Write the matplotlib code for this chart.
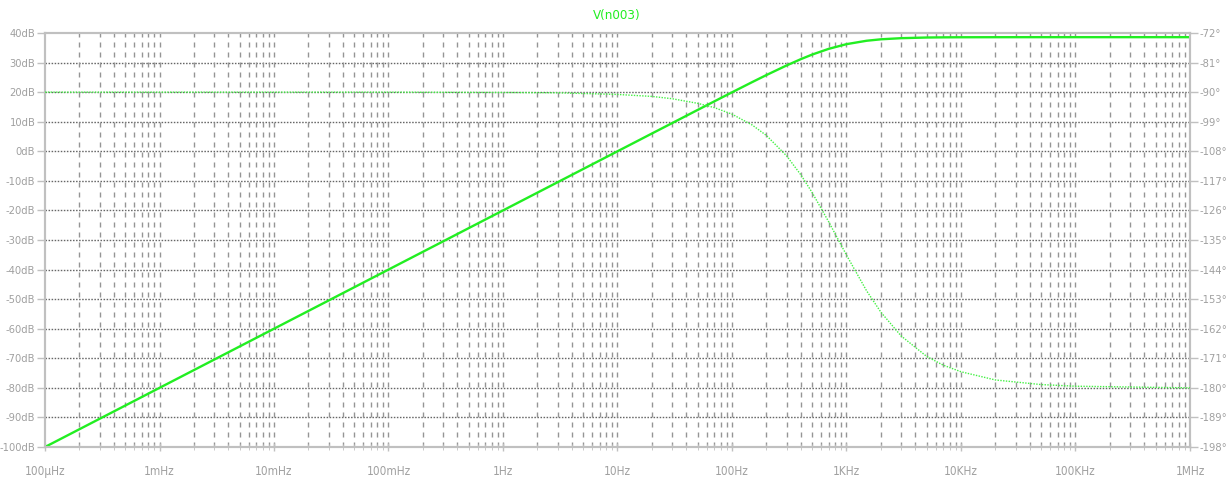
import matplotlib
matplotlib.use("Agg")
import matplotlib.pyplot as plt
from matplotlib import font_manager
from matplotlib.ticker import FixedLocator, NullFormatter

# values
freq_hz = [1e-4, 1e-3, 1e-2, 0.1, 1, 3, 10, 20, 30, 50, 70, 100, 150, 200, 300,
           400, 500, 700, 1000, 1500, 2000, 3000, 5000, 7000, 1e4, 2e4, 5e4, 1e5, 1e6]
mag_db = [-100, -80, -60, -40, -20, -10.46, 0.0, 6.02, 9.53, 13.96, 16.87, 19.94,
          23.39, 25.79, 29.03, 31.17, 32.69, 34.65, 36.23, 37.38, 37.87, 38.25,
          38.47, 38.53, 38.56, 38.58, 38.59, 38.59, 38.59]
phase_deg = [-90, -90, -90, -90, -90.1, -90.2, -90.7, -91.3, -92.0, -93.4, -94.7,
             -96.7, -100.0, -103.2, -109.4, -115.2, -120.5, -129.5, -139.6, -150.5,
             -157.0, -164.2, -170.4, -173.1, -175.1, -177.6, -179.0, -179.5, -180.0]

x_ticks = [1e-4, 1e-3, 1e-2, 0.1, 1, 10, 100, 1e3, 1e4, 1e5, 1e6]
x_labels = ["100µHz", "1mHz", "10mHz", "100mHz", "1Hz", "10Hz", "100Hz",
            "1KHz", "10KHz", "100KHz", "1MHz"]
db_ticks = list(range(40, -101, -10))
deg_ticks = list(range(-72, -199, -9))

green = "#22ee22"
lbl = "#a0a0a0"
frame = "#c0c0c0"

# pick a narrow face if one is installed
names = {f.name for f in font_manager.fontManager.ttflist}
stretches = {(f.name, f.stretch) for f in font_manager.fontManager.ttflist}
if "Liberation Sans Narrow" in names:
    font = dict(family=["Liberation Sans Narrow", "DejaVu Sans"], stretch="normal")
    ysize, xsize = 9.5, 10
elif any(n == "DejaVu Sans" and s == "condensed" for n, s in stretches):
    font = dict(family=["DejaVu Sans"], stretch="condensed")
    ysize, xsize = 8, 8.5
else:
    font = dict(family=["DejaVu Sans"], stretch="normal")
    ysize, xsize = 7.3, 7.8

fig = plt.figure(figsize=(12.29, 4.86), dpi=100)
ax = fig.add_axes([45 / 1229, 1 - 447 / 486, (1190 - 45) / 1229, (447 - 33) / 486])
ax.set_xscale("log")
ax.set_xlim(1e-4, 1e6)
ax.set_ylim(-100, 40)

# grid: dotted horizontal, dashed vertical at every decade subdivision
minor = [m * d for d in x_ticks[:-1] for m in range(2, 10)]
for y in db_ticks[1:-1]:
    ax.axhline(y, color="#666666", lw=1, ls=(0, (1.1, 1.1)), zorder=1)
for x in minor + x_ticks[1:-1]:
    ax.axvline(x, color="#959595", lw=1, ls=(0, (3.6, 3.6)), zorder=1)

ax.plot(freq_hz, mag_db, color=green, lw=1.7, zorder=3)

ax2 = ax.twinx()
ax2.set_ylim(-198, -72)
ax2.plot(freq_hz, phase_deg, color="#44f044", lw=1.0, ls=(0, (1, 1)), zorder=3)

ax.xaxis.set_major_locator(FixedLocator(x_ticks))
ax.xaxis.set_minor_locator(FixedLocator(minor))
ax.xaxis.set_minor_formatter(NullFormatter())
ax.set_xticklabels(x_labels)
ax.set_yticks(db_ticks)
ax.set_yticklabels([f"{v}dB" for v in db_ticks])
ax2.set_yticks(deg_ticks)
ax2.set_yticklabels([f"{v}°" for v in deg_ticks])

for a in (ax, ax2):
    for s in a.spines.values():
        s.set_color(frame)
        s.set_linewidth(1.5)
    a.tick_params(colors=frame, labelcolor=lbl, width=1)
    a.tick_params(axis="y", labelsize=ysize, length=6, pad=1)
    for t in a.get_xticklabels() + a.get_yticklabels():
        t.set_family(font["family"])
        t.set_stretch(font["stretch"])
ax.tick_params(axis="x", which="major", labelsize=xsize, length=6, pad=10,
               direction="inout")
ax.tick_params(axis="x", which="minor", length=5, direction="inout", color=frame)

fig.text(617 / 1229, 1 - 16 / 486, "V(n003)", color=green, ha="center",
         va="center", fontsize=xsize + 1, family=font["family"],
         stretch=font["stretch"])

fig.savefig("out.png", dpi=100, facecolor="white")
